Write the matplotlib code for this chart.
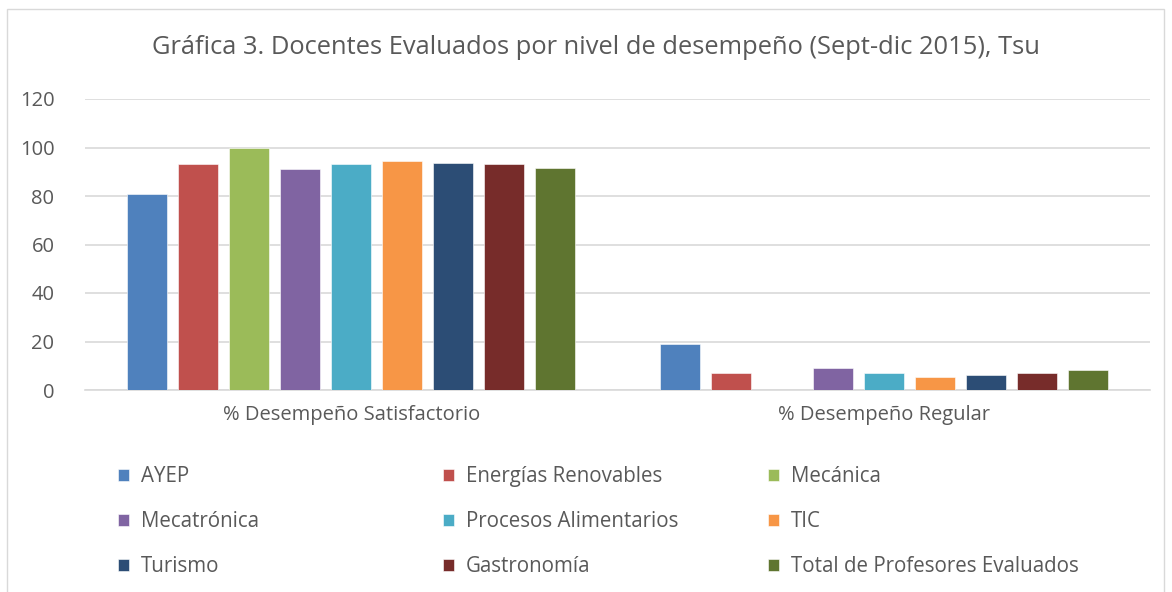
import matplotlib
matplotlib.use("Agg")
import matplotlib.pyplot as plt
from matplotlib.patches import Rectangle
import numpy as np

plt.rcParams['font.family'] = ['Open Sans', 'DejaVu Sans']

categories = ['% Desempeño Satisfactorio', '% Desempeño Regular']
series = ['AYEP', 'Energías Renovables', 'Mecánica', 'Mecatrónica',
          'Procesos Alimentarios', 'TIC', 'Turismo', 'Gastronomía',
          'Total de Profesores Evaluados']
satisfactorio = [81, 93, 100, 91, 93, 94.6, 93.8, 93, 91.7]
regular = [19, 7, 0, 9, 7, 5.4, 6.2, 7, 8.3]
colors = ['#4F81BD', '#C0504D', '#9BBB59', '#8064A2', '#4BACC6',
          '#F79646', '#2C4D75', '#772C2A', '#5F7530']

txt = '#595959'
fig = plt.figure(figsize=(11.72, 5.92), dpi=100)
ax = fig.add_axes([85 / 1172, 1 - 390 / 592, 1065 / 1172, 291 / 592])

x = np.arange(len(categories))
slot = 0.0958
width = 0.075
handles = []
for i, name in enumerate(series):
    vals = [satisfactorio[i], regular[i]]
    b = ax.bar(x + (i - 4) * slot, vals, width, color=colors[i], label=name,
               edgecolor='white', linewidth=0.4, zorder=3)
    handles.append(b)

ax.set_xlim(-0.5, 1.5)
ax.set_ylim(0, 120)
ax.set_yticks(range(0, 121, 20))
ax.set_xticks(x)
ax.set_xticklabels(categories)
ax.tick_params(length=0, labelsize=14.5, colors=txt)
ax.tick_params(axis='x', pad=11)
ax.tick_params(axis='y', pad=22)
ax.grid(axis='y', color='#d9d9d9', linewidth=1.2, zorder=0)
for s in ['top', 'right', 'left']:
    ax.spines[s].set_visible(False)
ax.spines['bottom'].set_color('#d9d9d9')
ax.spines['bottom'].set_linewidth(1.2)

fig.text(596 / 1172, 1 - 47 / 592, 'Gráfica 3. Docentes Evaluados por nivel de desempeño (Sept-dic 2015), Tsu',
         ha='center', va='center', fontsize=18.4, color=txt)

for c, xpos in enumerate([118, 443, 768]):
    fig.legend(handles[c::3], series[c::3], loc='upper left',
               bbox_to_anchor=(xpos / 1172, 1 - 466 / 592),
               frameon=False, fontsize=14.8, labelcolor=txt,
               handlelength=0.55, handleheight=0.55, handletextpad=0.55,
               labelspacing=1.17, borderpad=0, borderaxespad=0)

fig.patches.append(Rectangle((7 / 1172, -0.01), 1157 / 1172, 1 - 9 / 592 + 0.01,
                             transform=fig.transFigure, fill=False,
                             edgecolor='#d9d9d9', linewidth=1))

fig.savefig('out.png', dpi=100)
